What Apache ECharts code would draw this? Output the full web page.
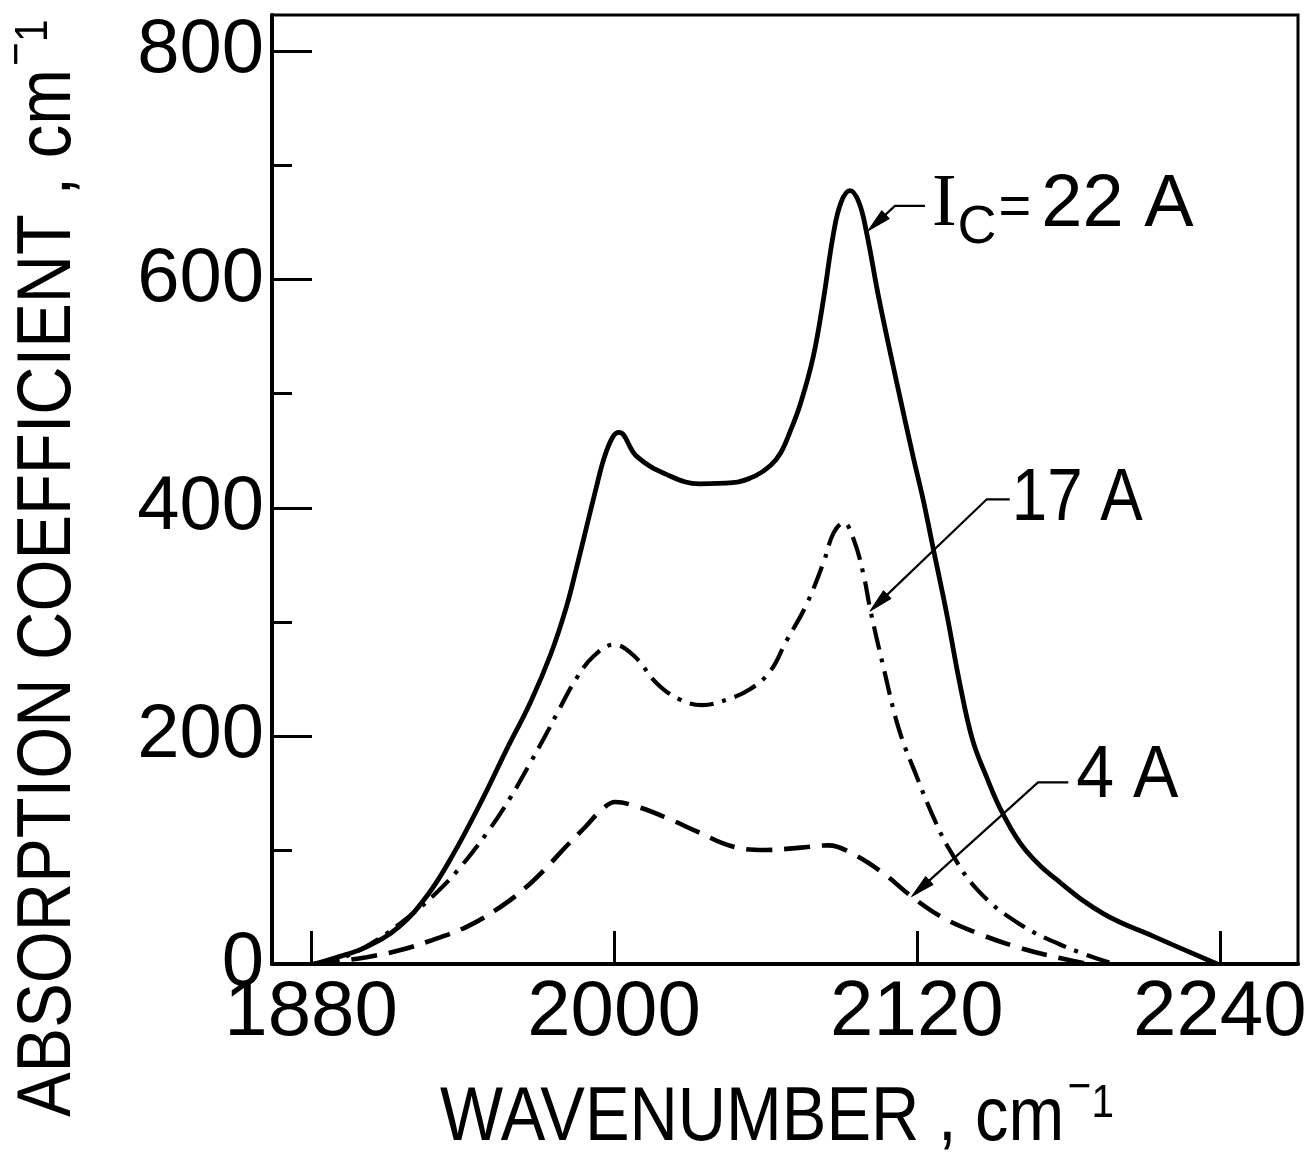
<!DOCTYPE html>
<html>
<head>
<meta charset="utf-8">
<script src="https://cdn.jsdelivr.net/npm/echarts@6/dist/echarts.min.js"></script>
<style>
  html, body { margin: 0; padding: 0; background: #fff; }
  #chart { width: 1313px; height: 1168px; }
</style>
</head>
<body>
<div id="chart"></div>
<script>
// Axis ticks (wavenumber in cm^-1, absorption coefficient in cm^-1)
const xTickValues = [1880, 2000, 2120, 2240];
const yTickValues = [0, 200, 400, 600, 800];
const yMinorTickValues = [100, 300, 500, 700];

// Spectrum at I_C = 22 A
const wavenumber22A = [1881, 1889, 1902, 1915, 1926, 1936, 1948, 1957, 1967, 1975, 1981, 1985, 1989, 1993, 1996, 1999.5, 2002, 2009, 2021, 2034, 2047, 2056, 2062, 2066, 2070, 2074, 2079, 2083, 2087, 2090, 2093.5, 2097, 2100, 2105, 2112, 2118.5, 2122.5, 2126.5, 2132, 2137, 2142, 2147.6, 2154, 2163, 2177, 2194, 2214, 2239];
const absorption22A = [0, 5, 15, 33, 60, 95, 145, 186, 230, 272, 312, 346, 382, 418, 443, 462, 466, 445, 429, 421, 422, 428, 437, 448, 468, 492, 533, 583, 641, 668, 678, 668, 642, 583, 510, 445, 407, 364, 305, 246, 197, 164, 132, 100, 71, 44, 24, 0];

// Spectrum at 17 A
const wavenumber17A = [1881, 1893, 1906, 1919, 1928, 1938, 1950, 1959, 1967, 1973, 1978, 1985, 1992, 2000, 2008, 2017, 2026, 2035, 2045, 2054, 2062, 2068, 2076, 2083, 2087, 2091, 2095, 2099, 2101.5, 2107, 2113, 2120, 2126.5, 2133, 2144, 2160, 2179, 2198];
const absorption17A = [0, 6, 21, 42, 59, 82, 116, 146, 177, 201, 222, 250, 270, 280, 270, 246, 232, 227, 232, 241, 257, 282, 314, 352, 378, 387, 372, 340, 311, 258, 205, 164, 129, 100, 65, 36, 15, 0];

// Spectrum at 4 A
const wavenumber4A = [1881, 1889, 1902, 1915, 1928, 1942, 1955, 1965, 1973, 1981, 1989, 1995, 2000.5, 2009, 2021, 2033, 2047, 2060, 2074, 2085, 2095, 2107, 2118, 2130, 2144, 2161, 2177, 2188];
const absorption4A = [0, 2, 6, 12, 21, 33, 50, 67, 84, 103, 121, 135, 142, 138, 128, 116, 103, 100, 102, 104, 96, 79, 59, 41, 27, 14, 5, 0];

// Callout anchors in data units: arrow tip on the curve, leader elbow, end of the horizontal stroke
const calloutAnchors = [
  { name: '22A', tip: [2100.6, 642.7], elbow: [2111.3, 664.6], end: [2123.2, 664.6] },
  { name: '17A', tip: [2101.4, 309.3], elbow: [2147.7, 407.4], end: [2156.8, 407.4] },
  { name: '4A',  tip: [2117.9, 59.1],  elbow: [2168.0, 159.2], end: [2180.0, 159.2] }
];

const FONT = '"Liberation Sans", Arial, sans-serif';
const INK = '#000';

const pairs = (xs, ys) => xs.map((x, i) => [x, ys[i]]);
const plainNumber = (v) => String(v);

const chart = echarts.init(document.getElementById('chart'), null, { renderer: 'canvas' });

const option = {
  animation: false,
  backgroundColor: '#fff',
  grid: {
    left: 272, right: 15, top: 15, bottom: 204,
    containLabel: false,
    outerBoundsMode: 'none',
    show: true,
    borderColor: INK,
    borderWidth: 3,
    backgroundColor: 'transparent'
  },
  xAxis: {
    type: 'value',
    min: 1864.5,
    max: 2271,
    axisLine: { show: true, lineStyle: { color: INK, width: 4 } },
    axisTick: { show: true, inside: true, length: 33, customValues: xTickValues, lineStyle: { color: INK, width: 3 } },
    axisLabel: { show: true, customValues: xTickValues, formatter: plainNumber, margin: 10, color: INK, fontSize: 78, fontFamily: FONT },
    splitLine: { show: false }
  },
  yAxis: [
    {
      type: 'value',
      min: 0,
      max: 832,
      position: 'left',
      axisLine: { show: true, lineStyle: { color: INK, width: 4 } },
      axisTick: { show: true, inside: true, length: 40, customValues: yTickValues, lineStyle: { color: INK, width: 3 } },
      axisLabel: { show: true, customValues: yTickValues, formatter: plainNumber, margin: 8, color: INK, fontSize: 76, fontFamily: FONT },
      splitLine: { show: false }
    },
    {
      // short minor ticks on the left edge (right-side axis shifted onto the left border)
      type: 'value',
      min: 0,
      max: 832,
      position: 'right',
      offset: -1026,
      axisLine: { show: false },
      axisTick: { show: true, inside: false, length: 20, customValues: yMinorTickValues, lineStyle: { color: INK, width: 3 } },
      axisLabel: { show: false },
      splitLine: { show: false }
    }
  ],
  series: [
    {
      name: '22 A',
      type: 'line',
      data: pairs(wavenumber22A, absorption22A),
      showSymbol: false,
      smooth: 0.4,
      lineStyle: { color: INK, width: 4.8, type: 'solid' },
      z: 5
    },
    {
      name: '17 A',
      type: 'line',
      data: pairs(wavenumber17A, absorption17A),
      showSymbol: false,
      smooth: 0.4,
      lineStyle: { color: INK, width: 4.2, type: [24, 9, 4, 9] },
      z: 4
    },
    {
      name: '4 A',
      type: 'line',
      data: pairs(wavenumber4A, absorption4A),
      showSymbol: false,
      smooth: 0.4,
      lineStyle: { color: INK, width: 4.6, type: [26, 12] },
      z: 3
    }
  ]
};

chart.setOption(option);

// ---- callouts, axis titles ----
const toPx = (p) => chart.convertToPixel({ seriesIndex: 0 }, p);

function arrowGraphics(anchor) {
  const tip = toPx(anchor.tip);
  const elbow = toPx(anchor.elbow);
  const end = toPx(anchor.end);
  const dx = tip[0] - elbow[0], dy = tip[1] - elbow[1];
  const len = Math.hypot(dx, dy);
  const ux = dx / len, uy = dy / len;
  const headLen = 24, headHalf = 5.5;
  const base = [tip[0] - ux * headLen, tip[1] - uy * headLen];
  const px = -uy, py = ux;
  return [
    {
      type: 'polyline',
      shape: { points: [end, elbow, [base[0] + ux * 4, base[1] + uy * 4]] },
      style: { stroke: INK, lineWidth: 2.2, fill: null },
      z: 10
    },
    {
      type: 'polygon',
      shape: { points: [tip, [base[0] + px * headHalf, base[1] + py * headHalf], [base[0] - px * headHalf, base[1] - py * headHalf]] },
      style: { fill: INK, stroke: INK, lineWidth: 1 },
      z: 10
    }
  ];
}

const graphics = [];
calloutAnchors.forEach(a => graphics.push(...arrowGraphics(a)));

const end22 = toPx(calloutAnchors[0].end);
const end17 = toPx(calloutAnchors[1].end);
const end4 = toPx(calloutAnchors[2].end);

graphics.push({
  type: 'text',
  x: end22[0] + 7,
  y: end22[1] - 37,
  z: 10,
  style: {
    text: '{i|I}{c|C}{e|=}{t|22 A}',
    fill: INK,
    textAlign: 'left', align: 'left',
    textVerticalAlign: 'top', verticalAlign: 'top',
    rich: {
      i: { fontSize: 74, fontFamily: '"Liberation Serif", serif', fill: INK, verticalAlign: 'top' },
      c: { fontSize: 54, fontFamily: FONT, fill: INK, verticalAlign: 'top', padding: [32, 0, 0, 1] },
      e: { fontSize: 56, fontFamily: FONT, fill: INK, verticalAlign: 'top', padding: [12, 2, 0, 2] },
      t: { fontSize: 74, fontFamily: FONT, fill: INK, verticalAlign: 'top', padding: [0, 0, 0, 8] }
    }
  }
});

graphics.push({
  type: 'text',
  x: end17[0] + 2,
  y: end17[1],
  scaleX: 0.86,
  z: 10,
  style: {
    text: '17 A',
    fill: INK,
    font: '74px ' + FONT,
    textAlign: 'left', align: 'left',
    textVerticalAlign: 'middle', verticalAlign: 'middle'
  }
});

graphics.push({
  type: 'text',
  x: end4[0] + 8,
  y: end4[1] - 6,
  scaleX: 0.92,
  z: 10,
  style: {
    text: '4 A',
    fill: INK,
    font: '74px ' + FONT,
    textAlign: 'left', align: 'left',
    textVerticalAlign: 'middle', verticalAlign: 'middle'
  }
});

// Axis titles with superscript "−1"
const titleRich = {
  m: { fontSize: 76, fontFamily: FONT, fill: INK, verticalAlign: 'top', padding: [16, 4, 0, 0] },
  n: { fontSize: 46, fontFamily: FONT, fill: INK, verticalAlign: 'top', padding: [0, 0, 0, 0] },
  o: { fontSize: 46, fontFamily: FONT, fill: INK, verticalAlign: 'top', padding: [16, 0, 0, 0] }
};

graphics.push({
  type: 'text',
  x: 440,
  y: 1065,
  scaleX: 0.88,
  z: 10,
  style: {
    text: '{m|WAVENUMBER , cm}{n|−}{o|1}',
    fill: INK,
    textAlign: 'left', align: 'left',
    textVerticalAlign: 'top', verticalAlign: 'top',
    rich: titleRich
  }
});

graphics.push({
  type: 'text',
  x: -5,
  y: 1117,
  rotation: Math.PI / 2,
  scaleX: 0.88,
  z: 10,
  style: {
    text: '{m|ABSORPTION COEFFICIENT , cm}{n|−}{o|1}',
    fill: INK,
    textAlign: 'left', align: 'left',
    textVerticalAlign: 'top', verticalAlign: 'top',
    rich: titleRich
  }
});

chart.setOption({ graphic: graphics });
</script>
</body>
</html>
